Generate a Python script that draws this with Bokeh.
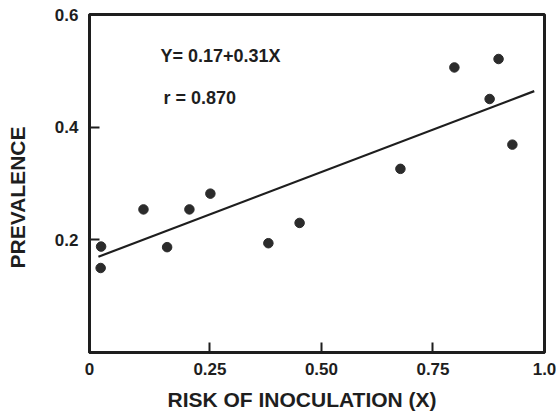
from bokeh.plotting import figure
from bokeh.models import Label, Title, FixedTicker, Range1d
from bokeh.embed import file_html
from bokeh.resources import INLINE

# Data
risk = [0.006, 0.005, 0.101, 0.154, 0.204, 0.251, 0.381, 0.451, 0.677, 0.798, 0.877, 0.897, 0.928]
prevalence = [0.188, 0.150, 0.254, 0.187, 0.254, 0.282, 0.194, 0.230, 0.326, 0.506, 0.450, 0.521, 0.369]

fit_x = [0.0, 0.977]
fit_y = [0.170, 0.464]

x_ticks = [-0.02, 0.25, 0.5, 0.75, 1.0]
x_tick_labels = ["0", "0.25", "0.50", "0.75", "1.0"]
y_ticks = [0.2, 0.4, 0.6]
y_tick_labels = ["0.2", "0.4", "0.6"]

equation_text = "Y= 0.17+0.31X"
r_text = "r = 0.870"
x_title = "RISK OF INOCULATION (X)"
y_title = "PREVALENCE"

INK = "#1e1e1e"
FONT = "Liberation Sans"

p = figure(width=556, height=418, output_backend="svg", toolbar_location=None,
           x_range=Range1d(-0.02, 1.0), y_range=Range1d(0.0, 0.6),
           min_border_left=89, min_border_right=12, min_border_top=14, min_border_bottom=64)

p.xgrid.visible = False
p.ygrid.visible = False
p.background_fill_color = "white"
p.border_fill_color = "white"
p.outline_line_color = INK
p.outline_line_width = 3

for ax in (p.xaxis[0], p.yaxis[0]):
    ax.axis_line_color = INK
    ax.axis_line_width = 3
    ax.major_tick_line_color = INK
    ax.major_tick_line_width = 2
    ax.major_tick_in = 10
    ax.major_tick_out = 0
    ax.minor_tick_line_color = None
    ax.major_label_text_font = FONT
    ax.major_label_text_font_style = "bold"
    ax.major_label_text_font_size = "17px"
    ax.major_label_text_color = INK

p.xaxis.ticker = FixedTicker(ticks=x_ticks)
p.xaxis.major_label_overrides = dict(zip(x_ticks, x_tick_labels))
p.xaxis.major_label_standoff = 10
p.yaxis.ticker = FixedTicker(ticks=y_ticks)
p.yaxis.major_label_standoff = 11
p.yaxis.major_label_overrides = dict(zip(y_ticks, y_tick_labels))
# blank spacer label, pushes the y title out toward the page edge
p.yaxis.axis_label = " "
p.yaxis.axis_label_text_font_size = "1px"
p.yaxis.axis_label_standoff = 12

p.line(fit_x, fit_y, line_color=INK, line_width=2.2)
p.scatter(risk, prevalence, size=9.5, fill_color="#2b2b2b", line_color="#2b2b2b")

p.add_layout(Label(x=0.139, y=0.527, text=equation_text, text_font=FONT, text_font_style="bold",
                   text_font_size="18px", text_color=INK, text_baseline="middle"))
p.add_layout(Label(x=0.146, y=0.452, text=r_text, text_font=FONT, text_font_style="bold",
                   text_font_size="18px", text_color=INK, text_baseline="middle"))

p.add_layout(Title(text=x_title, align="left", offset=78, text_font=FONT, text_font_style="bold",
                   text_font_size="21px", text_color=INK, standoff=16), "below")
p.add_layout(Title(text=y_title, align="left", offset=84, vertical_align="top", text_font=FONT,
                   text_font_style="bold", text_font_size="21px", text_color=INK, standoff=10), "left")

open("out.html", "w").write(file_html(p, INLINE))
